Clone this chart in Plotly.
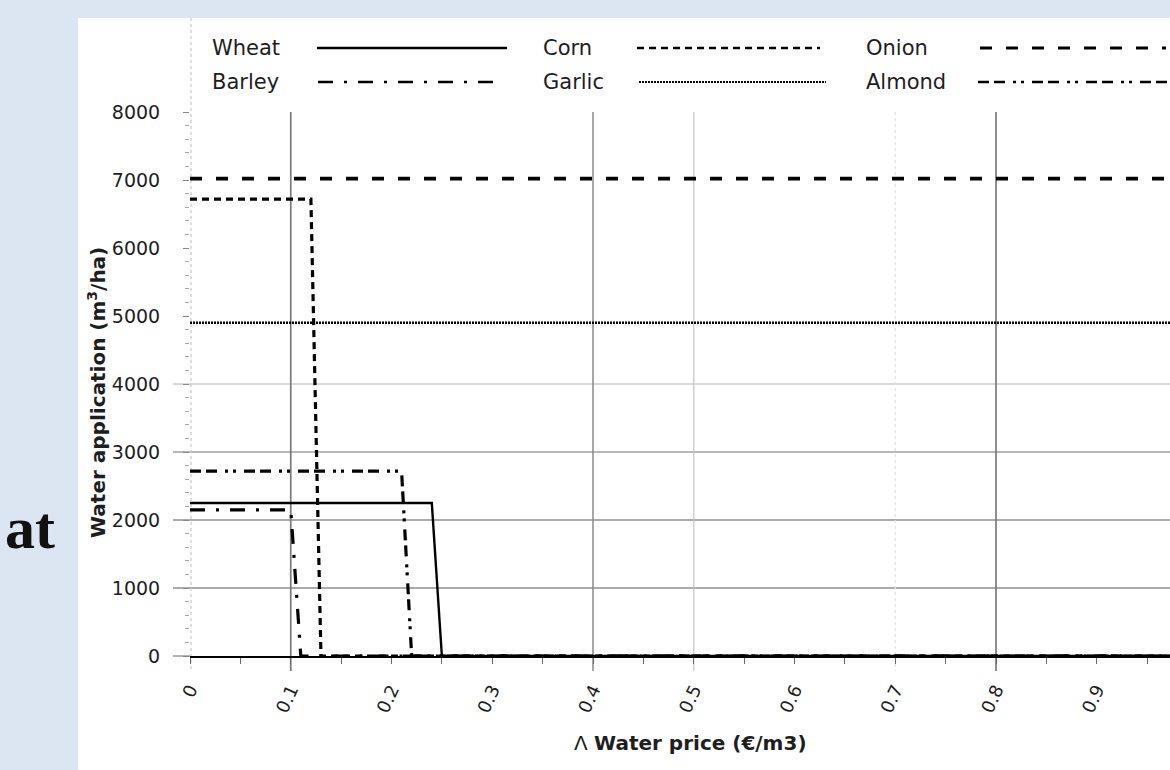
import plotly.graph_objects as go

# ---- data: water application (m3/ha) versus water price (EUR/m3) ----
crops = ["Wheat", "Corn", "Onion", "Barley", "Garlic", "Almond"]

price_wheat = [0, 0.24, 0.25, 1.0]
water_wheat = [2250, 2250, 0, 0]

price_corn = [0, 0.12, 0.13, 1.0]
water_corn = [6720, 6720, 0, 0]

price_onion = [0, 1.0]
water_onion = [7020, 7020]

price_barley = [0, 0.10, 0.11, 1.0]
water_barley = [2150, 2150, 0, 0]

price_garlic = [0, 1.0]
water_garlic = [4900, 4900]

price_almond = [0, 0.21, 0.22, 1.0]
water_almond = [2720, 2720, 0, 0]

x_ticks = [0, 0.1, 0.2, 0.3, 0.4, 0.5, 0.6, 0.7, 0.8, 0.9]
x_tick_text = ["0", "0.1", "0.2", "0.3", "0.4", "0.5", "0.6", "0.7", "0.8", "0.9"]
y_ticks = [0, 1000, 2000, 3000, 4000, 5000, 6000, 7000, 8000]

# ---- styling ----
W, H = 1170, 770
L, R, T, B = 190, 1170, 112, 656          # plot area in pixels
X_MAX = 0.9727
Y_MAX = 8000

styles = {
    "Wheat":  dict(dash="solid", width=2.4),
    "Corn":   dict(dash="7px,5px", width=3.2),
    "Onion":  dict(dash="12px,14px", width=3.6),
    "Barley": dict(dash="15px,11px,3px,11px", width=3.2),
    "Garlic": dict(dash="2px,1px", width=2.6),
    "Almond": dict(dash="11px,5px,11px,8px,3px,5px,3px,8px", width=3.2),
}
series = {
    "Wheat": (price_wheat, water_wheat),
    "Corn": (price_corn, water_corn),
    "Onion": (price_onion, water_onion),
    "Barley": (price_barley, water_barley),
    "Garlic": (price_garlic, water_garlic),
    "Almond": (price_almond, water_almond),
}

TEXT = "#1e1e1e"
FONT = "DejaVu Sans"


def px(x):
    return (x - L) / (R - L)


def py(y):
    return (B - y) / (B - T)


fig = go.Figure()
for name in crops:
    xs, ys = series[name]
    st = styles[name]
    fig.add_trace(go.Scatter(
        x=xs, y=ys, mode="lines", name=name, showlegend=False,
        line=dict(color="black", width=st["width"], dash=st["dash"]),
    ))

shapes = []
# white panel behind the chart
shapes.append(dict(type="rect", xref="paper", yref="paper",
                   x0=px(78), x1=px(1175), y0=py(18), y1=py(775),
                   fillcolor="white", line=dict(width=0), layer="below"))

# horizontal grid lines (extend left as major ticks)
grid_y = [(1000, "#909090"), (2000, "#909090"), (3000, "#a0a0a0"), (4000, "#cccccc")]
for v, c in grid_y:
    yy = v / Y_MAX
    shapes.append(dict(type="line", xref="paper", yref="paper",
                       x0=px(173), x1=1, y0=yy, y1=yy,
                       line=dict(color=c, width=1.3), layer="below"))
shapes.append(dict(type="line", xref="paper", yref="paper",
                   x0=px(173), x1=0, y0=0, y1=0,
                   line=dict(color="#8a8a8a", width=1.3), layer="below"))

# vertical grid lines
grid_x = [(0.1, "#7a7a7a", 1.7, "solid"), (0.4, "#888888", 1.5, "solid"),
          (0.5, "#c4c4c4", 1.2, "solid"), (0.7, "#e2e2e2", 1.2, "dot"),
          (0.8, "#7a7a7a", 1.7, "solid")]
for v, c, w, d in grid_x:
    xx = v / X_MAX
    shapes.append(dict(type="line", xref="paper", yref="paper",
                       x0=xx, x1=xx, y0=1, y1=py(671),
                       line=dict(color=c, width=w, dash=d), layer="below"))
# faint dotted line along the value axis
shapes.append(dict(type="line", xref="paper", yref="paper",
                   x0=px(191), x1=px(191), y0=py(18), y1=py(672),
                   line=dict(color="#c8c8c8", width=1.2, dash="dot"), layer="below"))

# legend drawn as text followed by a line sample
legend_items = [
    ("Wheat", 210, 48, 317, 507),
    ("Corn", 541, 48, 637, 820),
    ("Onion", 864, 48, 980, 1166),
    ("Barley", 210, 82, 318, 502),
    ("Garlic", 541, 82, 639, 826),
    ("Almond", 864, 82, 978, 1170),
]
annotations = []
for name, tx, ty, lx0, lx1 in legend_items:
    st = styles[name]
    annotations.append(dict(text=name, xref="paper", yref="paper",
                            x=px(tx), y=py(ty), xanchor="left", yanchor="middle",
                            showarrow=False, font=dict(family=FONT, size=21, color=TEXT)))
    shapes.append(dict(type="line", xref="paper", yref="paper",
                       x0=px(lx0), x1=px(lx1), y0=py(ty), y1=py(ty),
                       line=dict(color="black", width=st["width"] * 0.8 if name != "Wheat" else 2.6,
                                 dash=st["dash"])))

# axis titles
annotations.append(dict(text="Λ <b>Water price (€/m3)</b>", xref="paper", yref="paper",
                        x=px(690), y=py(743), xanchor="center", yanchor="middle",
                        showarrow=False, font=dict(family=FONT, size=20, color=TEXT)))
annotations.append(dict(text="<b>Water application (m<sup>3</sup>/ha)</b>", xref="paper", yref="paper",
                        x=px(97), y=py(393), xanchor="center", yanchor="middle", textangle=-90,
                        showarrow=False, font=dict(family=FONT, size=20, color=TEXT)))
# fragment of slide text at the left edge
annotations.append(dict(text="<b>at</b>", xref="paper", yref="paper",
                        x=px(57), y=py(528), xanchor="right", yanchor="middle",
                        showarrow=False, font=dict(family="Liberation Serif", size=60, color="#111")))

fig.update_layout(
    width=W, height=H,
    margin=dict(l=L, r=W - R, t=T, b=H - B, pad=0),
    paper_bgcolor="#dce6f2",
    plot_bgcolor="rgba(0,0,0,0)",
    showlegend=False,
    shapes=shapes,
    annotations=annotations,
    xaxis=dict(
        range=[0, X_MAX], showgrid=False, zeroline=False,
        showline=True, linecolor="black", linewidth=2.2,
        tickmode="array", tickvals=x_ticks, ticktext=x_tick_text,
        ticks="", tickangle=-65, ticklabelstandoff=14,
        tickfont=dict(family=FONT, size=18, color=TEXT),
        minor=dict(ticks="outside", dtick=0.05, tick0=0, ticklen=6,
                   tickcolor="#666", tickwidth=1.2, showgrid=False),
    ),
    yaxis=dict(
        range=[0, Y_MAX], showgrid=False, zeroline=False, showline=False,
        tickmode="array", tickvals=y_ticks,
        ticks="outside", ticklen=6, tickcolor="#888", tickwidth=1.2,
        ticklabelstandoff=19,
        tickfont=dict(family=FONT, size=19, color=TEXT),
        minor=dict(ticks="outside", dtick=200, tick0=0, ticklen=4,
                   tickcolor="#aaa", tickwidth=1, showgrid=False),
    ),
)

fig.write_html("out.html")
